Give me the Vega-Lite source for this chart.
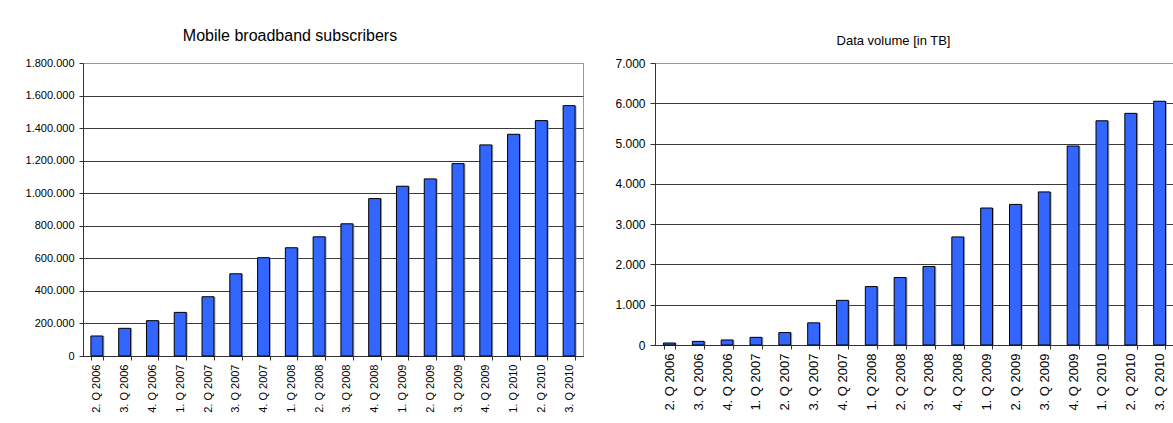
{
  "$schema": "https://vega.github.io/schema/vega-lite/v6.json",
  "padding": {"left": 24, "top": 27, "right": 0, "bottom": 0},
  "spacing": 30,
  "datasets": {
    "subs": [
      {"quarter": "2. Q 2006", "subscribers": 123000},
      {"quarter": "3. Q 2006", "subscribers": 170000},
      {"quarter": "4. Q 2006", "subscribers": 217000},
      {"quarter": "1. Q 2007", "subscribers": 268000},
      {"quarter": "2. Q 2007", "subscribers": 364000},
      {"quarter": "3. Q 2007", "subscribers": 505000},
      {"quarter": "4. Q 2007", "subscribers": 604000},
      {"quarter": "1. Q 2008", "subscribers": 665000},
      {"quarter": "2. Q 2008", "subscribers": 732000},
      {"quarter": "3. Q 2008", "subscribers": 812000},
      {"quarter": "4. Q 2008", "subscribers": 967000},
      {"quarter": "1. Q 2009", "subscribers": 1043000},
      {"quarter": "2. Q 2009", "subscribers": 1088000},
      {"quarter": "3. Q 2009", "subscribers": 1182000},
      {"quarter": "4. Q 2009", "subscribers": 1297000},
      {"quarter": "1. Q 2010", "subscribers": 1362000},
      {"quarter": "2. Q 2010", "subscribers": 1446000},
      {"quarter": "3. Q 2010", "subscribers": 1538000}
    ],
    "vol": [
      {"quarter": "2. Q 2006", "tb": 50},
      {"quarter": "3. Q 2006", "tb": 90},
      {"quarter": "4. Q 2006", "tb": 125},
      {"quarter": "1. Q 2007", "tb": 190},
      {"quarter": "2. Q 2007", "tb": 308},
      {"quarter": "3. Q 2007", "tb": 550},
      {"quarter": "4. Q 2007", "tb": 1108},
      {"quarter": "1. Q 2008", "tb": 1450},
      {"quarter": "2. Q 2008", "tb": 1675},
      {"quarter": "3. Q 2008", "tb": 1950},
      {"quarter": "4. Q 2008", "tb": 2683},
      {"quarter": "1. Q 2009", "tb": 3400},
      {"quarter": "2. Q 2009", "tb": 3490},
      {"quarter": "3. Q 2009", "tb": 3800},
      {"quarter": "4. Q 2009", "tb": 4940},
      {"quarter": "1. Q 2010", "tb": 5565},
      {"quarter": "2. Q 2010", "tb": 5750},
      {"quarter": "3. Q 2010", "tb": 6050}
    ]
  },
  "config": {
    "locale": {"number": {"decimal": ",", "thousands": ".", "grouping": [3], "currency": ["", " €"]}},
    "font": "Liberation Sans",
    "view": {"stroke": "#999999", "strokeWidth": 1},
    "title": {"fontWeight": "normal", "color": "#000000", "font": "Liberation Sans"},
    "axis": {
      "labelFont": "Liberation Sans",
      "labelColor": "#000000",
      "domainColor": "#333333",
      "tickColor": "#333333",
      "tickSize": 4,
      "title": null
    }
  },
  "hconcat": [
    {
      "width": 500,
      "height": 293,
      "data": {"name": "subs"},
      "title": {"text": "Mobile broadband subscribers", "fontSize": 16, "dx": -43, "offset": 13},
      "encoding": {
        "x": {
          "field": "quarter", "type": "nominal", "sort": null,
          "scale": {"paddingInner": 0.57, "paddingOuter": 0.285},
          "axis": {"labelAngle": -90, "labelFontSize": 11, "tickBand": "extent", "labelPadding": 4, "grid": false}
        },
        "y": {
          "field": "subscribers", "type": "quantitative",
          "scale": {"domain": [0, 1800000], "nice": false},
          "axis": {
            "values": [0, 200000, 400000, 600000, 800000, 1000000, 1200000, 1400000, 1600000, 1800000],
            "format": ",d", "labelFontSize": 11, "labelPadding": 5,
            "grid": true,
            "gridColor": {"condition": {"test": "datum.value == 1800000", "value": "#999999"}, "value": "#3a3a3a"}
          }
        }
      },
      "layer": [
        {"mark": {"type": "bar", "fill": "#8a8a8a", "xOffset": 1.5, "opacity": 0.7}},
        {"mark": {"type": "bar", "fill": "#3366FF", "stroke": "#000000", "strokeWidth": 1}}
      ]
    },
    {
      "width": 519,
      "height": 282,
      "data": {"name": "vol"},
      "title": {"text": "Data volume [in TB]", "fontSize": 13, "dx": -21, "offset": 9},
      "encoding": {
        "x": {
          "field": "quarter", "type": "nominal", "sort": null,
          "scale": {"paddingInner": 0.59, "paddingOuter": 0.295},
          "axis": {"labelAngle": -90, "labelFontSize": 13, "tickBand": "extent", "labelPadding": 4, "grid": false}
        },
        "y": {
          "field": "tb", "type": "quantitative",
          "scale": {"domain": [0, 7000], "nice": false},
          "axis": {
            "values": [0, 1000, 2000, 3000, 4000, 5000, 6000, 7000],
            "format": ",d", "labelFontSize": 12, "labelPadding": 5, "tickSize": 5,
            "grid": true,
            "gridColor": {"condition": {"test": "datum.value == 7000", "value": "#999999"}, "value": "#3a3a3a"}
          }
        }
      },
      "layer": [
        {"mark": {"type": "bar", "fill": "#8a8a8a", "xOffset": 1.5, "opacity": 0.7}},
        {"mark": {"type": "bar", "fill": "#3366FF", "stroke": "#000000", "strokeWidth": 1}}
      ]
    }
  ]
}
